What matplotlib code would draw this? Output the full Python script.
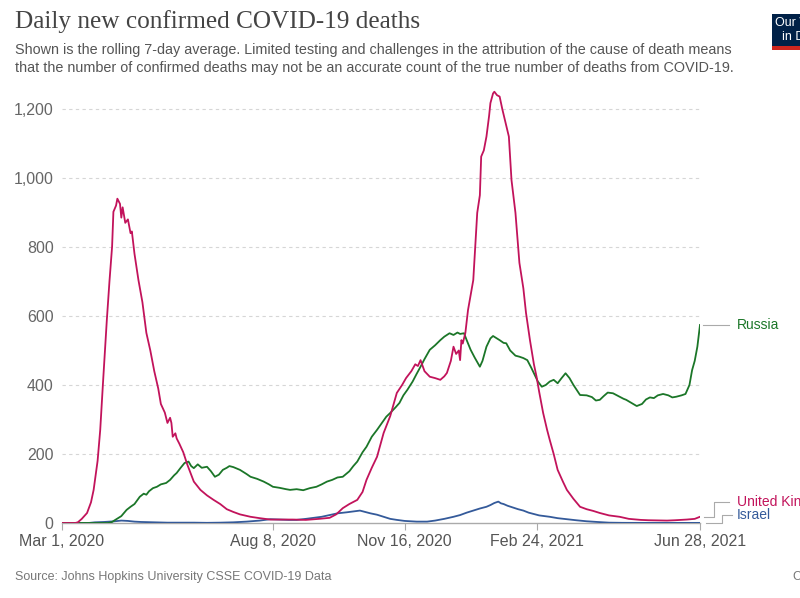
import numpy as np
import matplotlib
matplotlib.use("Agg")
import matplotlib.pyplot as plt

# Daily new confirmed COVID-19 deaths, rolling 7-day average
# day offsets are counted from 1 March 2020
start = np.datetime64("2020-03-01")

uk_days = [0, 10, 12, 15, 19, 22, 24, 27, 29, 31, 34, 36, 38, 39, 41, 42, 44, 45, 46, 48,
           50, 52, 53, 55, 58, 61, 64, 67, 70, 73, 75, 78, 80, 82, 83, 84, 86, 87, 89, 92,
           95, 97, 100, 105, 110, 115, 120, 125, 130, 135, 143, 150, 158, 165, 175, 185, 195, 203, 208, 213,
           218, 224, 228, 231, 235, 239, 244, 249, 254, 258, 261, 265, 268, 270, 272, 275, 279, 283, 287, 290,
           292, 295, 297, 299, 301, 302, 303, 304, 306, 308, 310, 312, 315, 317, 318, 320, 322, 324, 325, 327,
           328, 330, 332, 334, 336, 339, 341, 344, 347, 350, 352, 355, 358, 360, 362, 365, 368, 370, 373, 376,
           380, 383, 388, 393, 398, 403, 408, 415, 423, 430, 439, 445, 459, 465, 474, 480, 484]
uk_vals = [0, 0, 2, 12, 29, 60, 96, 180, 270, 400, 588, 700, 801, 902, 920, 940, 925, 885, 915, 870,
           880, 840, 845, 780, 704, 640, 551, 500, 440, 390, 345, 320, 290, 305, 290, 250, 260, 245, 230, 205,
           170, 150, 120, 96, 80, 67, 55, 40, 32, 25, 18, 14, 10, 10, 10, 9, 12, 15, 25, 43,
           55, 67, 90, 125, 160, 192, 261, 310, 377, 400, 420, 440, 460, 455, 472, 440, 424, 420, 415, 425,
           435, 470, 511, 490, 500, 472, 530, 520, 551, 617, 660, 704, 899, 950, 1062, 1080, 1120, 1180, 1217, 1245,
           1250, 1240, 1236, 1200, 1168, 1120, 994, 899, 754, 680, 609, 530, 460, 424, 380, 319, 270, 241, 200, 154,
           120, 96, 70, 47, 40, 35, 29, 22, 18, 12, 9, 8, 7, 8, 10, 12, 18]

ru_days = [0, 35, 38, 40, 45, 49, 52, 55, 59, 62, 64, 66, 69, 72, 75, 79, 82, 85, 87, 90,
           93, 96, 98, 100, 103, 106, 110, 113, 116, 119, 122, 125, 127, 130, 135, 140, 143, 148, 153, 157,
           160, 165, 170, 173, 178, 183, 188, 193, 197, 201, 205, 209, 213, 218, 221, 224, 228, 231, 235, 239,
           243, 246, 249, 253, 256, 259, 262, 266, 269, 272, 275, 279, 283, 287, 290, 294, 297, 300, 302, 305,
           307, 310, 313, 317, 319, 322, 325, 327, 330, 332, 335, 337, 340, 344, 347, 350, 353, 356, 358, 361,
           364, 367, 370, 373, 376, 379, 382, 385, 388, 393, 398, 402, 405, 408, 411, 414, 418, 422, 426, 428,
           432, 436, 440, 443, 446, 449, 452, 456, 460, 463, 466, 470, 473, 476, 478, 480, 482, 484]
ru_vals = [0, 0, 3, 8, 20, 38, 47, 55, 76, 85, 82, 92, 101, 105, 112, 116, 125, 138, 145, 160,
           174, 178, 165, 159, 170, 160, 163, 150, 134, 140, 154, 160, 165, 162, 154, 142, 134, 128, 120, 112,
           105, 102, 98, 96, 98, 95, 101, 105, 112, 120, 125, 132, 134, 150, 165, 178, 205, 221, 250, 270,
           292, 308, 319, 335, 348, 370, 386, 410, 432, 453, 475, 502, 515, 530, 540, 550, 545, 552, 548, 550,
           530, 502, 480, 453, 470, 511, 535, 542, 535, 530, 522, 521, 500, 485, 482, 478, 472, 450, 434, 410,
           395, 400, 410, 415, 405, 420, 434, 420, 400, 371, 370, 365, 355, 357, 368, 378, 376, 368, 360, 357,
           348, 339, 345, 358, 364, 362, 370, 374, 370, 364, 366, 370, 374, 400, 443, 470, 511, 574]

il_days = [0, 20, 25, 32, 40, 45, 50, 55, 60, 70, 80, 100, 110, 120, 130, 140, 150, 158, 165, 172,
           178, 185, 191, 197, 203, 209, 216, 222, 226, 230, 234, 239, 244, 249, 254, 260, 269, 277, 283, 290,
           297, 302, 307, 312, 317, 322, 325, 328, 331, 333, 335, 338, 342, 346, 350, 354, 358, 362, 366, 370,
           376, 383, 390, 398, 406, 415, 425, 440, 484]
il_vals = [0, 0, 2, 3, 5, 7, 6, 4, 3, 2, 1, 1, 0.5, 1, 2, 4, 7, 11, 10, 9,
           9, 12, 15, 18, 23, 28, 31, 34, 36, 32, 28, 24, 18, 12, 9, 6, 4, 4, 7, 12,
           18, 23, 30, 36, 42, 47, 52, 58, 62, 57, 55, 50, 45, 40, 36, 30, 26, 22, 20, 18,
           14, 11, 8, 5, 3, 1, 0.5, 0.3, 0.3]

tick_dates = ["2020-03-01", "2020-08-08", "2020-11-16", "2021-02-24", "2021-06-28"]
tick_labels = ["Mar 1, 2020", "Aug 8, 2020", "Nov 16, 2020", "Feb 24, 2021", "Jun 28, 2021"]
y_ticks = [0, 200, 400, 600, 800, 1000, 1200]

col_uk = "#c2135b"
col_ru = "#1b7628"
col_il = "#345a9a"
sans = ["Liberation Sans", "DejaVu Sans"]


def to_dates(days):
    return start + np.array(days, dtype="timedelta64[D]")


W, H = 800, 598
fig = plt.figure(figsize=(W / 100, H / 100), dpi=100, facecolor="white")
# pixel box of the plot area: x 62..700, y 90..523
ax = fig.add_axes([62 / W, 1 - 523 / H, 638 / W, 433 / H])

ax.plot(to_dates(il_days), il_vals, color=col_il, lw=1.3, zorder=3)
ax.plot(to_dates(ru_days), ru_vals, color=col_ru, lw=1.3, zorder=4)
ax.plot(to_dates(uk_days), uk_vals, color=col_uk, lw=1.3, zorder=5)

ax.set_xlim(start, np.datetime64("2021-06-28"))
ax.set_ylim(0, 1255)

ax.set_yticks(y_ticks)
ax.set_yticklabels(["{:,}".format(v) for v in y_ticks], family=sans, fontsize=11.5, color="#666666")
ax.set_xticks([np.datetime64(d) for d in tick_dates])
ax.set_xticklabels(tick_labels, family=sans, fontsize=11.5, color="#555555")
ax.tick_params(axis="y", length=0, pad=6)
ax.tick_params(axis="x", length=5, color="#aaaaaa", pad=3)

for s in ["top", "right", "left"]:
    ax.spines[s].set_visible(False)
ax.spines["bottom"].set_color("#aaaaaa")
ax.spines["bottom"].set_linewidth(1)

for v in y_ticks[1:]:
    ax.axhline(v, color="#d6d6d6", lw=0.8, ls=(0, (3, 3)), zorder=1)

# line end labels with grey connectors
tr = ax.get_yaxis_transform()
ru_end = ru_vals[-1]
ax.plot([1.004, 1.045], [ru_end, ru_end], color="#aaaaaa", lw=0.8, transform=tr, clip_on=False)
ax.text(1.058, ru_end, "Russia", color=col_ru, fontsize=10, family=sans, va="center",
        transform=tr, clip_on=False)

uk_end = uk_vals[-1]
uk_lab = 61
ax.plot([1.006, 1.022, 1.022, 1.045], [uk_end, uk_end, uk_lab, uk_lab], color="#aaaaaa",
        lw=0.8, transform=tr, clip_on=False)
ax.text(1.058, uk_lab, "United Kingdom", color=col_uk, fontsize=10, family=sans, va="center",
        transform=tr, clip_on=False)

il_end = il_vals[-1]
il_lab = 22
ax.plot([1.01, 1.035, 1.035, 1.05], [il_end, il_end, il_lab, il_lab], color="#aaaaaa",
        lw=0.8, transform=tr, clip_on=False)
ax.text(1.058, il_lab, "Israel", color=col_il, fontsize=10, family=sans, va="center",
        transform=tr, clip_on=False)

# header
fig.text(15 / W, 1 - 22 / H, "Daily new confirmed COVID-19 deaths", family=["Liberation Serif", "DejaVu Serif"],
         fontsize=18.2, color="#444444", va="center", ha="left")
fig.text(15 / W, 1 - 50 / H,
         "Shown is the rolling 7-day average. Limited testing and challenges in the attribution of the cause of death means",
         family=sans, fontsize=10.35, color="#555555", va="center", ha="left")
fig.text(15 / W, 1 - 68 / H,
         "that the number of confirmed deaths may not be an accurate count of the true number of deaths from COVID-19.",
         family=sans, fontsize=10.35, color="#555555", va="center", ha="left")

# Our World in Data logo, cut by the right edge
fig.patches.append(plt.Rectangle((772 / W, 1 - 50 / H), 40 / W, 36 / H, transform=fig.transFigure,
                                 facecolor="#002147", edgecolor="none"))
fig.patches.append(plt.Rectangle((772 / W, 1 - 50 / H), 40 / W, 4 / H, transform=fig.transFigure,
                                 facecolor="#ce261e", edgecolor="none"))
fig.text(775 / W, 1 - 23 / H, "Our World", family=sans, fontsize=9, color="white", va="center")
fig.text(782 / W, 1 - 37 / H, "in Data", family=sans, fontsize=9, color="white", va="center")

# footer
fig.text(15 / W, 1 - 577 / H, "Source: Johns Hopkins University CSSE COVID-19 Data", family=sans,
         fontsize=9, color="#777777", va="center", ha="left")
fig.text(793 / W, 1 - 577 / H, "CC BY", family=sans, fontsize=9, color="#777777", va="center", ha="left")

fig.savefig("out.png", dpi=100, facecolor="white")
